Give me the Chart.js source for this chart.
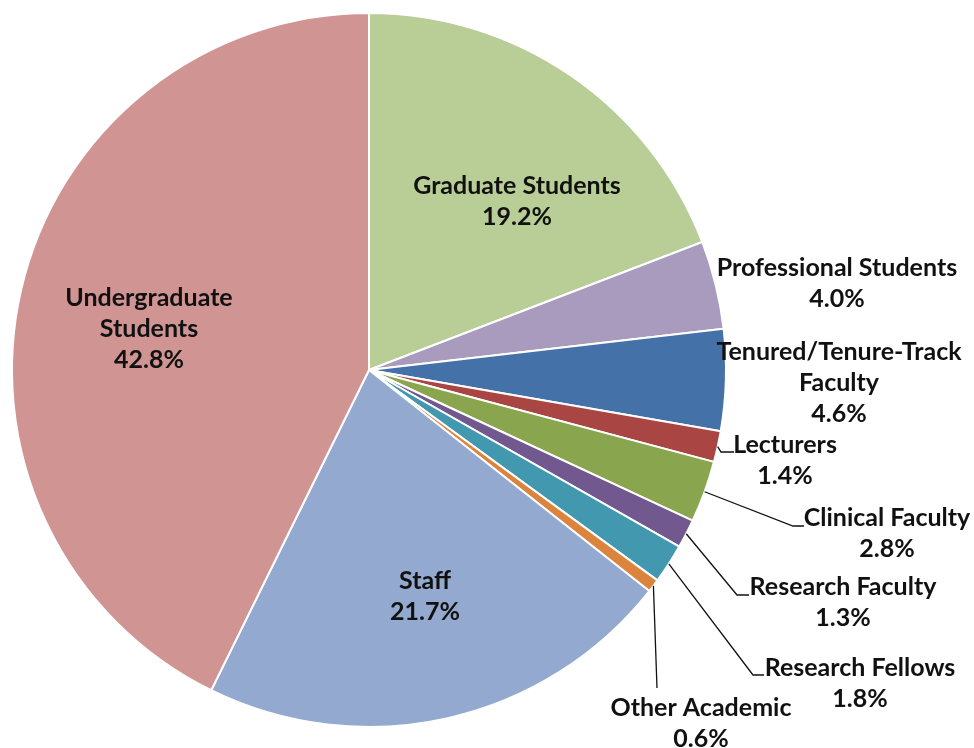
<!DOCTYPE html>
<html>
<head>
<meta charset="utf-8">
<script src="https://cdn.jsdelivr.net/npm/chart.js@4.4.1/dist/chart.umd.min.js"></script>
<style>
    html, body { margin: 0; padding: 0; background: #fff; }
    #wrap { width: 974px; height: 748px; position: relative; }
</style>
</head>
<body>
<div id="wrap"><canvas id="pieChart" width="974" height="748"></canvas></div>
<script>
// 各類別（由上方順時針）
const categories = ['Graduate Students', 'Professional Students', 'Tenured/Tenure-Track Faculty', 'Lecturers',
    'Clinical Faculty', 'Research Faculty', 'Research Fellows', 'Other Academic', 'Staff', 'Undergraduate Students'];
const shares = [19.2, 4.0, 4.6, 1.4, 2.8, 1.3, 1.8, 0.6, 21.7, 42.8];
const sliceColors = ['#B9CD96', '#A99BBD', '#4471A7', '#A94644', '#89A54E', '#71588F', '#4298AF', '#DB843D', '#93A9CF', '#D09493'];
// 標籤的文字行
const labelLines = [
    ['Graduate Students'], ['Professional Students'], ['Tenured/Tenure-Track', 'Faculty'], ['Lecturers'],
    ['Clinical Faculty'], ['Research Faculty'], ['Research Fellows'], ['Other Academic'], ['Staff'], ['Undergraduate', 'Students']
];

// 標籤位置 (x 為中心, y 為第一行基線) 與引線轉折點
const labelLayout = [
    { x: 517, y: 194 },
    { x: 837, y: 276 },
    { x: 839, y: 360 },
    { x: 785, y: 453, leader: [[721, 452], [734, 452]] },
    { x: 887, y: 526, leader: [[793, 526], [804, 526]] },
    { x: 843, y: 595, leader: [[737, 595], [749, 595]] },
    { x: 860, y: 676, leader: [[753, 675], [764, 675]] },
    { x: 701, y: 716, leader: [[657, 688]] },
    { x: 425, y: 589 },
    { x: 149, y: 306 }
];

const lineGap = 31;

const labelPlugin = {
    id: 'sliceLabels',
    afterDatasetsDraw(chart) {
        const ctx = chart.ctx;
        const meta = chart.getDatasetMeta(0);
        ctx.save();
        ctx.font = 'bold 25px Lato';
        ctx.fillStyle = '#111';
        ctx.textAlign = 'center';
        ctx.textBaseline = 'alphabetic';
        meta.data.forEach((arc, i) => {
            const pos = labelLayout[i];
            const lines = labelLines[i].concat([shares[i].toFixed(1) + '%']);
            lines.forEach((t, k) => {
                ctx.fillText(t, pos.x, pos.y + k * lineGap);
            });
            if (pos.leader) {
                const p = arc.getProps(['x', 'y', 'startAngle', 'endAngle', 'outerRadius']);
                const mid = (p.startAngle + p.endAngle) / 2;
                ctx.beginPath();
                ctx.strokeStyle = '#111';
                ctx.lineWidth = 1.3;
                ctx.moveTo(p.x + Math.cos(mid) * p.outerRadius, p.y + Math.sin(mid) * p.outerRadius);
                pos.leader.forEach(pt => ctx.lineTo(pt[0], pt[1]));
                ctx.stroke();
            }
        });
        ctx.restore();
    }
};

new Chart(document.getElementById('pieChart'), {
    type: 'pie',
    data: {
        labels: categories,
        datasets: [{
            data: shares,
            backgroundColor: sliceColors,
            borderColor: '#ffffff',
            borderWidth: 2
        }]
    },
    options: {
        responsive: false,
        animation: false,
        layout: { padding: { left: 11, right: 247, top: 12, bottom: 20 } },
        plugins: {
            legend: { display: false },
            tooltip: { enabled: false }
        }
    },
    plugins: [labelPlugin]
});
</script>
</body>
</html>
